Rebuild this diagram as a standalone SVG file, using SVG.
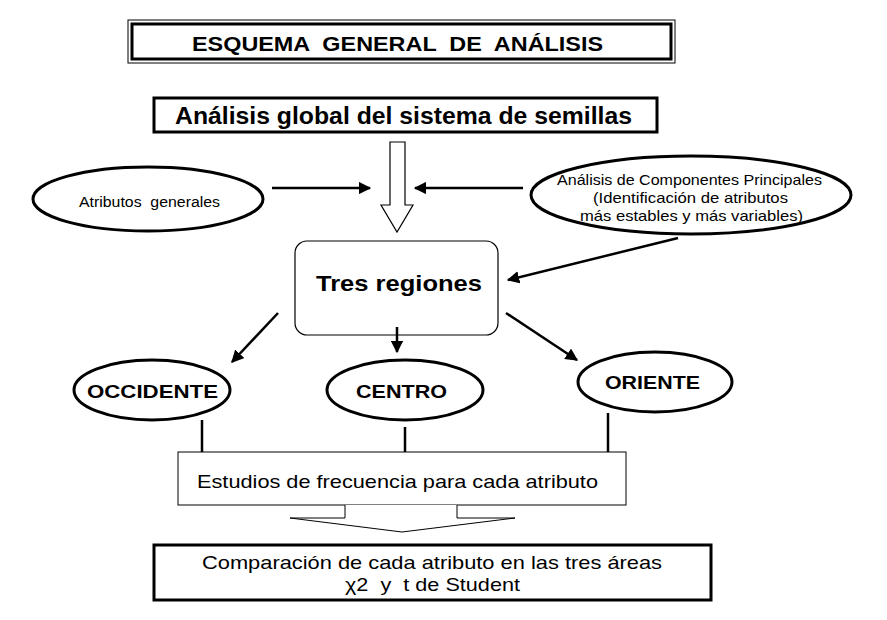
<svg xmlns="http://www.w3.org/2000/svg" width="887" height="620" viewBox="0 0 887 620">
<defs>
<style>
text{font-family:"Liberation Sans",Arial,sans-serif;fill:#000;white-space:pre}
.b{font-weight:bold}
.ln{stroke:#000;stroke-width:2.5;fill:none}
.el{fill:#fff;stroke:#000;stroke-width:3}
</style>
<marker id="ah" viewBox="0 0 10 10" refX="9" refY="5" markerWidth="5" markerHeight="5" orient="auto"><path d="M0,0 L10,5 L0,10 z" fill="#000"/></marker>
</defs>
<rect width="887" height="620" fill="#fff"/>
<g id="title"><rect x="128" y="20" width="547" height="43" fill="#fff" stroke="#000" stroke-width="1"/><rect x="132" y="24" width="539" height="35" fill="none" stroke="#000" stroke-width="3"/><text class="b" x="192" y="51" font-size="21" textLength="411" lengthAdjust="spacingAndGlyphs" xml:space="preserve">ESQUEMA  GENERAL  DE  ANÁLISIS</text></g>
<g id="global"><rect x="154" y="98" width="503" height="34" fill="#fff" stroke="#000" stroke-width="3"/><text class="b" x="175" y="124" font-size="23" textLength="457" lengthAdjust="spacingAndGlyphs">Análisis global del sistema de semillas</text></g>
<g id="atributos"><ellipse class="el" cx="148" cy="199" rx="115" ry="32"/><text x="79" y="207" font-size="14" textLength="141" lengthAdjust="spacingAndGlyphs" xml:space="preserve">Atributos  generales</text></g>
<g id="acp"><ellipse class="el" cx="691" cy="195" rx="160" ry="39"/><text x="557" y="185" font-size="15" textLength="265" lengthAdjust="spacingAndGlyphs">Análisis de Componentes Principales</text><text x="593" y="203" font-size="15" textLength="195" lengthAdjust="spacingAndGlyphs">(Identificación de atributos</text><text x="580" y="221" font-size="15" textLength="223" lengthAdjust="spacingAndGlyphs">más estables y más variables)</text></g>
<g id="tres"><rect x="295" y="241" width="203" height="94" rx="12" fill="#fff" stroke="#000" stroke-width="1.2"/><text class="b" x="316" y="291" font-size="22" textLength="166" lengthAdjust="spacingAndGlyphs">Tres regiones</text></g>
<g id="occidente"><ellipse class="el" cx="152" cy="390" rx="78" ry="30"/><text class="b" x="87" y="398" font-size="19" textLength="131" lengthAdjust="spacingAndGlyphs">OCCIDENTE</text></g>
<g id="centro"><ellipse class="el" cx="405" cy="390" rx="78" ry="30"/><text class="b" x="356" y="398" font-size="19" textLength="91" lengthAdjust="spacingAndGlyphs">CENTRO</text></g>
<g id="oriente"><ellipse class="el" cx="655" cy="382" rx="77" ry="30"/><text class="b" x="605" y="389" font-size="19" textLength="95" lengthAdjust="spacingAndGlyphs">ORIENTE</text></g>
<g id="frecuencia"><rect x="178" y="452" width="448" height="53" fill="#fff" stroke="#000" stroke-width="1"/><text x="197" y="488" font-size="19" textLength="401" lengthAdjust="spacingAndGlyphs">Estudios de frecuencia para cada atributo</text></g>
<g id="comparacion"><rect x="154" y="545" width="557" height="55" fill="#fff" stroke="#000" stroke-width="3"/><text x="202" y="569" font-size="19" textLength="460" lengthAdjust="spacingAndGlyphs">Comparación de cada atributo en las tres áreas</text><text x="345" y="591" font-size="19" textLength="175" lengthAdjust="spacingAndGlyphs" xml:space="preserve">χ2  y  t de Student</text></g>
<g id="connectors">
<path d="M390,142 H405 V205 H413 L397,232 L381,205 H390 Z" fill="#fff" stroke="#000" stroke-width="1.2"/>
<line class="ln" x1="272" y1="188" x2="370" y2="188" marker-end="url(#ah)"/>
<line class="ln" x1="523" y1="188" x2="415" y2="188" marker-end="url(#ah)"/>
<line class="ln" x1="678" y1="238" x2="508" y2="280" marker-end="url(#ah)"/>
<line class="ln" x1="278" y1="313" x2="232" y2="362" marker-end="url(#ah)"/>
<line class="ln" x1="397" y1="327" x2="397" y2="352" marker-end="url(#ah)"/>
<line class="ln" x1="506" y1="313" x2="577" y2="360" marker-end="url(#ah)"/>
<line class="ln" x1="202" y1="420" x2="202" y2="452"/>
<line class="ln" x1="405" y1="427" x2="405" y2="452"/>
<line class="ln" x1="608" y1="413" x2="608" y2="452"/>
<path d="M345,505 V518 H290 L402,532 L515,518 H457 V505" fill="#fff" stroke="#000" stroke-width="1"/>
</g>
</svg>
